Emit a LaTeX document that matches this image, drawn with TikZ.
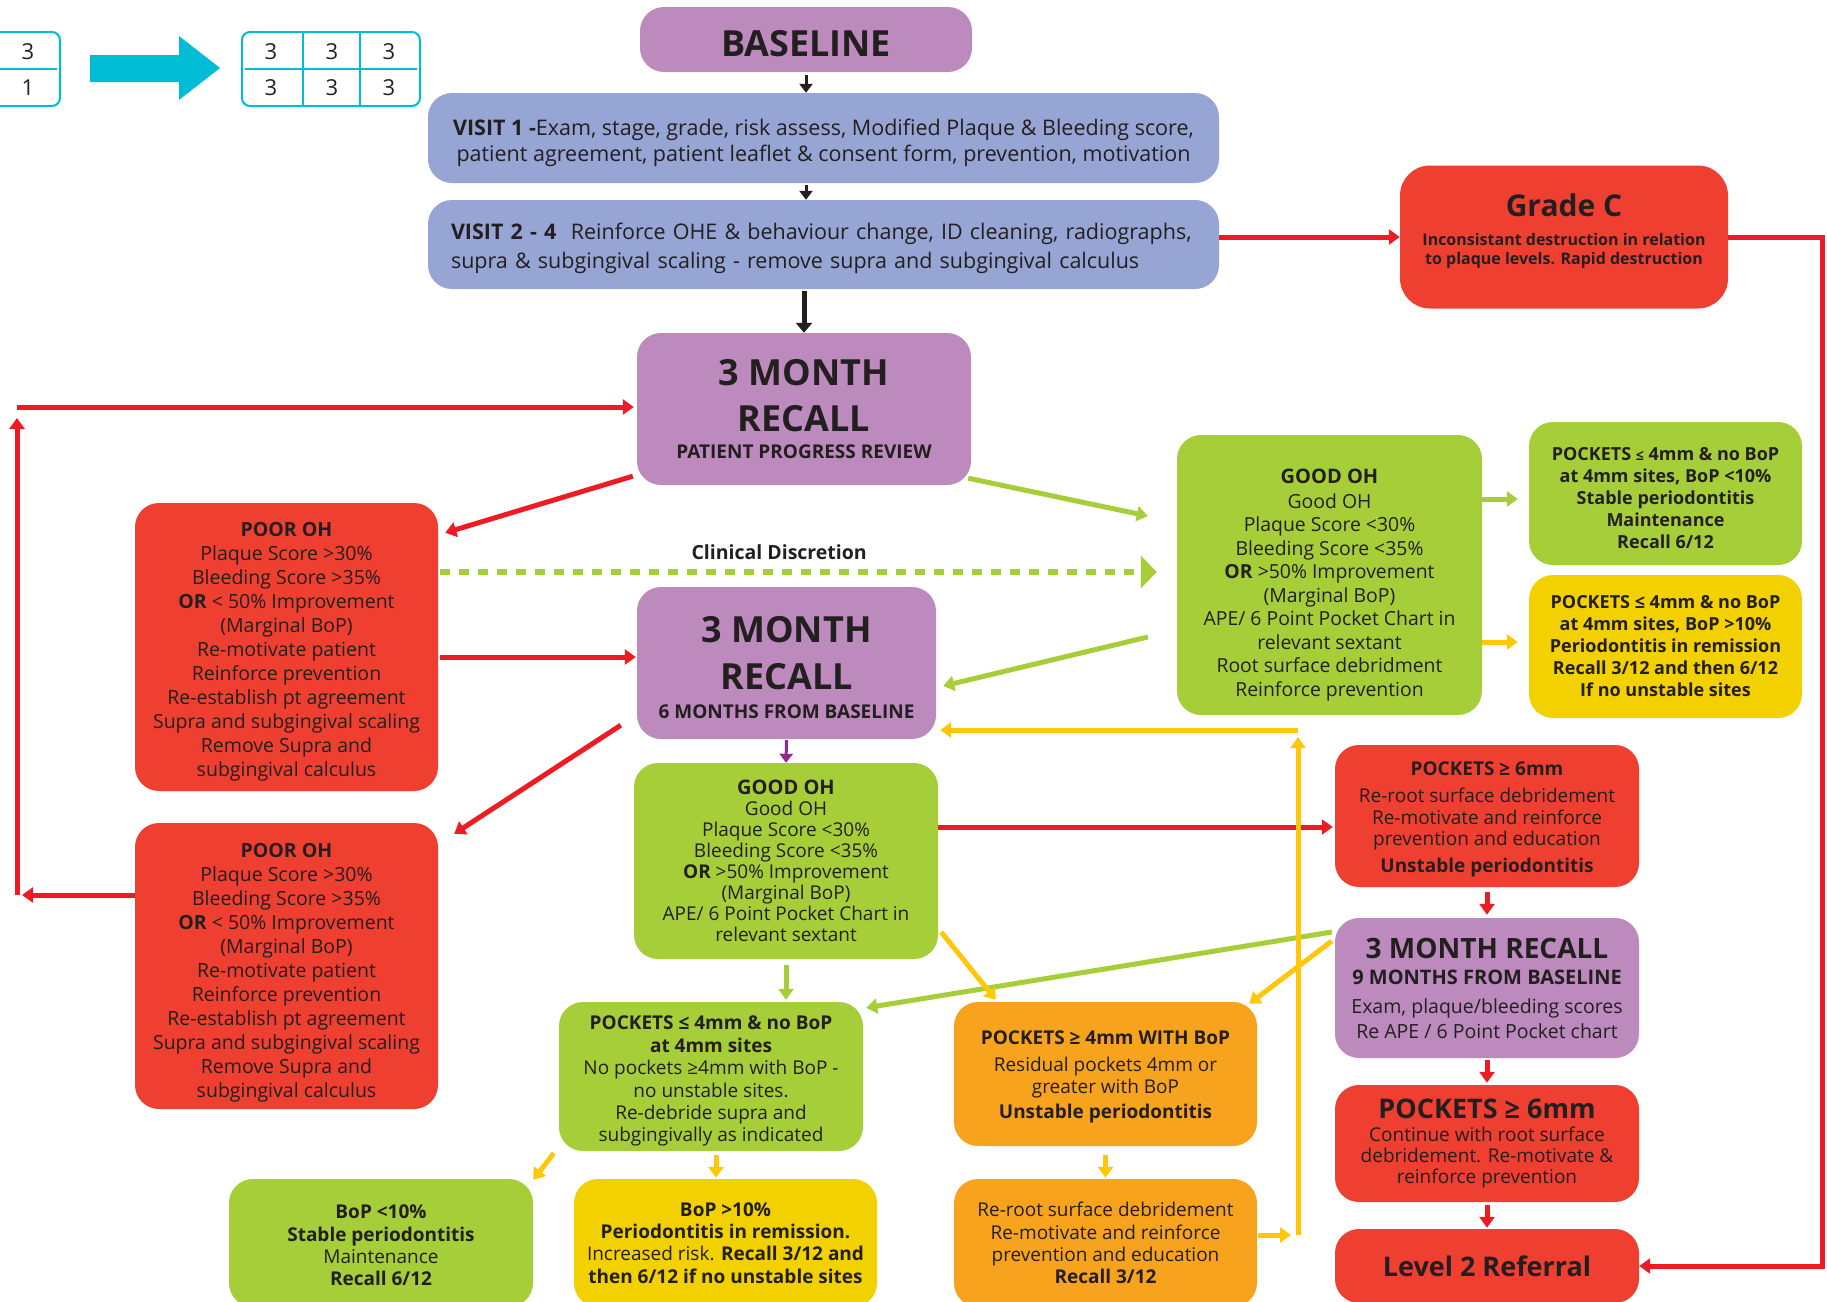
\documentclass[tikz,border=0pt]{standalone}
\usepackage{fontspec}
\setmainfont{Open Sans}
\usetikzlibrary{arrows.meta,calc}
\definecolor{purpbox}{RGB}{189,138,189}
\definecolor{bluebox}{RGB}{151,165,213}
\definecolor{redbox}{RGB}{238,63,49}
\definecolor{redln}{RGB}{237,28,36}
\definecolor{grnbox}{RGB}{166,206,57}
\definecolor{yelbox}{RGB}{243,208,0}
\definecolor{orgbox}{RGB}{247,163,29}
\definecolor{yelln}{RGB}{255,199,10}
\definecolor{purpln}{RGB}{146,39,143}
\definecolor{cyanc}{RGB}{0,188,212}
\definecolor{txtc}{RGB}{35,31,32}
\newcommand{\fsz}[2]{\fontsize{#1}{#2}\selectfont}
\newcommand{\tstrut}[1]{\rule{0pt}{#1}}
\newcommand{\bstrut}[1]{\rule[-#1]{0pt}{#1}}

\begin{document}
\begin{tikzpicture}[x=1pt,y=-1pt,
  box/.style={rounded corners=24pt,inner sep=0pt,align=center,text=txtc},
  purpnode/.style={box,fill=purpbox},
  bluenode/.style={box,fill=bluebox},
  rednode/.style={box,fill=redbox},
  grnnode/.style={box,fill=grnbox},
  yelnode/.style={box,fill=yelbox},
  orgnode/.style={box,fill=orgbox},
  tbl/.style={draw=cyanc,line width=2pt},
  digit/.style={font=\fsz{22}{24},text=txtc},
  blkarr/.style={draw=txtc,line width=3pt,-{Triangle[length=9pt,width=13pt]}},
  blkfat/.style={draw=txtc,line width=5pt,-{Triangle[length=10pt,width=16pt]}},
  redarr/.style={draw=redln,line width=5pt,-{Triangle[length=11pt,width=15pt]}},
  grnarr/.style={draw=grnbox,line width=5pt,-{Triangle[length=11pt,width=15pt]}},
  yelarr/.style={draw=yelln,line width=5pt,-{Triangle[length=11pt,width=15pt]}},
  purparr/.style={draw=purpln,line width=3pt,-{Triangle[length=9pt,width=13pt]}},
  dasharr/.style={draw=grnbox,line width=6pt,dash pattern=on 10pt off 9pt,-{Triangle[length=16pt,width=32pt]}}]
\useasboundingbox (0,0) rectangle (1827,1301);

\draw[tbl,rounded corners=8pt] (-20,32) rectangle (60,106);
\draw[tbl,line width=1.5pt] (0,69) -- (57,69);
\node[digit] (ta) at (28,52) {3};
\node[digit] (tb) at (28,88) {1};
\fill[cyanc] (90,55) -- (179,55) -- (179,36) -- (220,68) -- (179,100) -- (179,82) -- (90,82) -- cycle;
\draw[tbl,rounded corners=8pt] (242,32) rectangle (420,106);
\draw[tbl,line width=1.5pt] (245,69) -- (417,69) (303,32) -- (303,106) (360,32) -- (360,106);
\foreach \cx in {271,332,389}{
  \node[digit] at (\cx,52) {3};
  \node[digit] at (\cx,88) {3};
}

\node[purpnode,minimum width=332pt,minimum height=65pt,font=\fsz{36}{40}\bfseries] (baseline) at (806,39.5) {\tstrut{34.5pt}BASELINE};
\node[bluenode,minimum width=791pt,minimum height=90pt,font=\fsz{21.5}{26}] (visit1) at (823.5,138)
  {\tstrut{26pt}\textbf{VISIT 1 -}Exam, stage, grade, risk assess, Modified Plaque \& Bleeding score,\\patient agreement, patient leaflet \& consent form, prevention, motivation};
\node[bluenode,minimum width=791pt,minimum height=89pt,text width=745pt,align=left,font=\fsz{21.5}{29}] (visit2) at (823.5,244.5)
  {\tstrut{25pt}\textbf{VISIT 2 - 4}\ \ Reinforce OHE \& behaviour change, ID cleaning, radiographs,\\supra \& subgingival scaling - remove supra and subgingival calculus};
\node[rednode,rounded corners=30pt,minimum width=328pt,minimum height=143pt,font=\fsz{16}{19}\bfseries] (grC) at (1564,237)
  {{\fsz{30}{34}Grade C}\\[10pt]Inconsistant destruction in relation\\to plaque levels. Rapid destruction\bstrut{16pt}};
\node[purpnode,minimum width=334pt,minimum height=152pt,font=\fsz{36}{46}\bfseries] (rec1) at (804,409)
  {3 MONTH\\RECALL\\[-19pt]{\fsz{19}{22}PATIENT PROGRESS REVIEW}};
\node[rednode,minimum width=303pt,minimum height=288pt,font=\fsz{19.5}{24}] (poor1) at (286.5,647)
  {\tstrut{23pt}\textbf{POOR OH}\\Plaque Score >30\%\\Bleeding Score >35\%\\\textbf{OR} < 50\% Improvement\\(Marginal BoP)\\Re-motivate patient\\Reinforce prevention\\Re-establish pt agreement\\Supra and subgingival scaling\\Remove Supra and\\subgingival calculus};
\node[purpnode,minimum width=299pt,minimum height=152pt,font=\fsz{36}{47}\bfseries] (rec2) at (786.5,663)
  {\tstrut{34.5pt}3 MONTH\\RECALL\\[-18pt]{\fsz{19}{22}6 MONTHS FROM BASELINE}};
\node[grnnode,minimum width=305pt,minimum height=280pt,font=\fsz{19.4}{23.5}] (goodR) at (1329.5,575)
  {{\fsz{20}{23}\bfseries\tstrut{34pt}GOOD OH}\\[1.5pt]Good OH\\Plaque Score <30\%\\Bleeding Score <35\%\\\textbf{OR} >50\% Improvement\\(Marginal BoP)\\APE/ 6 Point Pocket Chart in\\relevant sextant\\Root surface debridment\\Reinforce prevention};
\node[grnnode,minimum width=273pt,minimum height=143pt,font=\fsz{18}{22}\bfseries] (stabR) at (1665.5,493.5)
  {\tstrut{22pt}POCKETS {\fsz{14}{16}≤} 4mm \& no BoP\\at 4mm sites, BoP <10\%\\Stable periodontitis\\Maintenance\\Recall 6/12};
\node[yelnode,minimum width=273pt,minimum height=143pt,font=\fsz{18}{22}\bfseries] (remR) at (1665.5,646.5)
  {POCKETS ≤ 4mm \& no BoP\\at 4mm sites, BoP >10\%\\Periodontitis in remission\\Recall 3/12 and then 6/12\\If no unstable sites};
\node[grnnode,minimum width=304pt,minimum height=196pt,font=\fsz{19}{21}] (good2) at (786,861)
  {{\fsz{20}{22}\bfseries GOOD OH}\\Good OH\\Plaque Score <30\%\\Bleeding Score <35\%\\\textbf{OR} >50\% Improvement\\(Marginal BoP)\\APE/ 6 Point Pocket Chart in\\relevant sextant};
\node[rednode,minimum width=303pt,minimum height=286pt,font=\fsz{19.5}{24}] (poor2) at (286.5,966)
  {\tstrut{28.5pt}\textbf{POOR OH}\\Plaque Score >30\%\\Bleeding Score >35\%\\\textbf{OR} < 50\% Improvement\\(Marginal BoP)\\Re-motivate patient\\Reinforce prevention\\Re-establish pt agreement\\Supra and subgingival scaling\\Remove Supra and\\subgingival calculus};
\node[rednode,minimum width=304pt,minimum height=142pt,font=\fsz{19}{21.5}] (pk6a) at (1487,816)
  {\tstrut{21.5pt}\textbf{POCKETS ≥ 6mm}\\[5.5pt]Re-root surface debridement\\Re-motivate and reinforce\\prevention and education\\[5.5pt]\textbf{Unstable periodontitis}};
\node[purpnode,minimum width=304pt,minimum height=140pt,font=\fsz{19.5}{25}] (rec3) at (1487,988)
  {{\fsz{28}{30}\bfseries 3 MONTH RECALL}\\[1pt]{\fsz{20}{22}\bfseries 9 MONTHS FROM BASELINE}\\[4pt]Exam, plaque/bleeding scores\\Re APE / 6 Point Pocket chart};
\node[rednode,minimum width=304pt,minimum height=117pt,font=\fsz{19}{21}] (pk6b) at (1487,1143.5)
  {{\fsz{27}{30}\bfseries POCKETS ≥ 6mm}\\[1.5pt]Continue with root surface\\debridement. Re-motivate \&\\reinforce prevention};
\node[rednode,minimum width=304pt,minimum height=74pt,font=\fsz{27}{30}\bfseries] (lvl2) at (1487,1266) {Level 2 Referral};
\node[grnnode,minimum width=304pt,minimum height=149pt,font=\fsz{19}{22.4}] (pk4) at (711,1076.5)
  {\tstrut{23.5pt}\textbf{POCKETS ≤ 4mm \& no BoP}\\\textbf{at 4mm sites}\\No pockets ≥4mm with BoP -\\no unstable sites.\\Re-debride supra and\\subgingivally as indicated};
\node[orgnode,minimum width=303pt,minimum height=144pt,font=\fsz{19}{22}] (pkbop) at (1105.5,1074)
  {\tstrut{20pt}\textbf{POCKETS ≥ 4mm WITH BoP}\\[5pt]Residual pockets 4mm or\\greater with BoP\\[3pt]\textbf{Unstable periodontitis}};
\node[grnnode,minimum width=304pt,minimum height=128pt,font=\fsz{19}{22.3}] (bop10) at (381,1243)
  {\tstrut{19pt}\textbf{BoP <10\%}\\\textbf{Stable periodontitis}\\Maintenance\\\textbf{Recall 6/12}};
\node[yelnode,minimum width=303pt,minimum height=128pt,font=\fsz{19}{22.3}] (bopgt) at (725.5,1243)
  {\textbf{BoP >10\%}\\\textbf{Periodontitis in remission.}\\Increased risk. \textbf{Recall 3/12 and}\\\textbf{then 6/12 if no unstable sites}};
\node[orgnode,minimum width=303pt,minimum height=128pt,font=\fsz{19}{22.3}] (reroot) at (1105.5,1243)
  {Re-root surface debridement\\Re-motivate and reinforce\\prevention and education\\\textbf{Recall 3/12}};

\coordinate (rcorner) at (1822,237);
\coordinate (lbot) at (17,895);
\coordinate (ltop) at (17,407);
\coordinate (ylow) at (1298,1235);
\coordinate (yhigh) at (1298,730);

\draw[blkarr,shorten <=3pt] (baseline.south) -- (baseline.south |- visit1.north);
\draw[blkarr,shorten <=2pt] (baseline.south |- visit1.south) -- (baseline.south |- visit2.north);
\draw[blkfat,shorten <=2pt] (rec1.north |- visit2.south) -- (rec1.north);
\draw[redarr] (visit2.east |- grC.west) -- (grC.west);
\draw[redarr] (grC.east) -- (rcorner) |- (lvl2.east);
\draw[redarr] (poor2.west |- lbot) -- ($(lbot)+(5,0)$);
\draw[redarr] (lbot) -- ($(ltop)+(0,11)$);
\draw[redarr,shorten >=3pt] (ltop) -- (rec1.west |- ltop);
\draw[redarr] ($(rec1.south west)+(-4,-9)$) -- ($(poor1.north east)+(7,30)$);
\draw[grnarr] ($(rec1.south east)+(-3,-7)$) -- ($(goodR.west)+(-29,-59)$);
\draw[dasharr] ($(poor1.east)+(2,-75)$) -- node[pos=0.473,above=6pt,font=\fsz{19.5}{22}\bfseries,text=txtc] (clin) {Clinical Discretion} ($(goodR.west)+(-20,-3)$);
\draw[redarr,shorten >=1pt] ($(poor1.east)+(2,10)$) -- ($(rec2.west)+(0,-6)$);
\draw[grnarr] ($(goodR.west)+(-29,62)$) -- ($(rec2.east)+(7,23)$);
\draw[redarr] ($(rec2.south west)+(-16,-14)$) -- ($(poor2.north east)+(16,11)$);
\draw[purparr,shorten <=1pt] (rec2.south) -- (good2.north);
\draw[redarr,shorten >=2pt] ($(good2.east)+(0,-34)$) -- ($(pk6a.west)+(0,11)$);
\draw[redarr,shorten <=5pt,shorten >=3pt] (pk6a.south) -- (rec3.north);
\draw[redarr,shorten <=2pt,shorten >=2pt] (rec3.south) -- (pk6b.north);
\draw[redarr,shorten <=3pt,shorten >=1pt] (pk6b.south) -- (lvl2.north);
\draw[grnarr] ($(rec3.west)+(-3,-56)$) -- ($(pk4.north east)+(3,6)$);
\draw[yelarr] ($(rec3.west)+(-3,-47)$) -- ($(pkbop.north east)+(-8,2)$);
\draw[yelarr] ($(good2.east)+(3,71)$) -- ($(pkbop.north west)+(42,-2)$);
\draw[grnarr,shorten <=6pt,shorten >=2pt] (good2.south) -- (good2.south |- pk4.north);
\draw[yelarr] ($(pk4.south west)+(-5,2)$) -- ($(bop10.north east)+(0,1)$);
\draw[yelarr,shorten <=4pt,shorten >=1pt] ([xshift=5pt]pk4.south) -- ([xshift=5pt]pk4.south |- bopgt.north);
\draw[yelarr,shorten <=9pt,shorten >=1pt] (pkbop.south) -- (reroot.north);
\draw[yelarr] ($(reroot.east)+(1,-8)$) -- ($(ylow)+(-7,0)$);
\draw[yelarr] (ylow) -- ($(yhigh)+(0,7)$);
\draw[yelarr] (yhigh) -- ($(rec2.east)+(4,67)$);
\draw[grnarr] ($(goodR.east)+(0,-76)$) -- ($(stabR.west)+(-11,5.5)$);
\draw[yelarr] ($(goodR.east)+(0,67)$) -- ($(remR.west)+(-11,-4.5)$);
\end{tikzpicture}
\end{document}
